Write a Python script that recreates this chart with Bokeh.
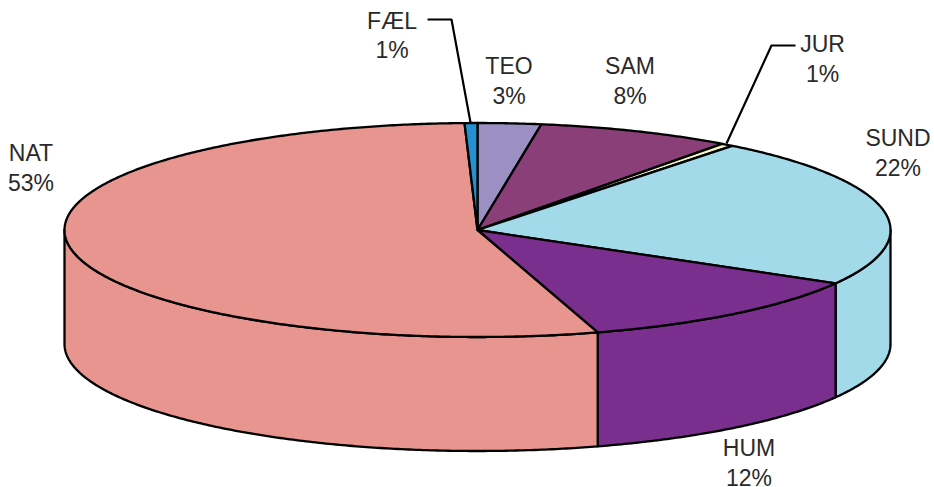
import math
from bokeh.plotting import figure
from bokeh.models import Range1d
from bokeh.core.properties import value
from bokeh.embed import file_html
from bokeh.resources import INLINE

categories = ["TEO", "SAM", "JUR", "SUND", "HUM", "NAT", "FÆL"]
shares = [2.47, 7.62, 0.49, 22.72, 12.0, 54.2, 0.5]
percent_labels = ["3%", "8%", "1%", "22%", "12%", "53%", "1%"]

colors = ["#9B8FC4", "#8A3F78", "#F5F5C8", "#A2DAE9", "#7A2F8E", "#E89590", "#2490D0"]
label_centers = [508.5, 629.5, 822, 897.5, 748.5, 30.5, 391.5]
label_baselines = [65.5, 65.5, 43.5, 137.5, 447.5, 152.5, 20]
LINE_GAP = 29.5

CX, CY, RX, RY, DEPTH = 477, 229.5, 413, 107, 114
INK = "#000000"
TEXT = "#2b2a29"
FONT = value("Liberation Sans")

WIDTH, HEIGHT = 934, 487
p = figure(width=WIDTH, height=HEIGHT, output_backend="svg", toolbar_location=None,
           x_range=Range1d(0, WIDTH), y_range=Range1d(HEIGHT, 0),
           min_border=0, outline_line_color=None, background_fill_color="white",
           border_fill_color="white")
p.axis.visible = False
p.grid.visible = False


def rim(a, b, dy=0.0, n=None):
    n = n or max(2, int(abs(b - a) * 2) + 2)
    xs, ys = [], []
    for i in range(n):
        t = math.radians(a + (b - a) * i / (n - 1))
        xs.append(CX + RX * math.sin(t))
        ys.append(CY - RY * math.cos(t) + dy)
    return xs, ys


# cumulative clockwise angles from twelve o'clock
edges = [0.0]
for s in shares:
    edges.append(edges[-1] + s * 3.6 * 100 / sum(shares))

# front walls (only the part of each slice between 90 and 270 degrees)
for i in range(len(shares)):
    a, b = max(edges[i], 90), min(edges[i + 1], 270)
    if a >= b:
        continue
    tx, ty = rim(a, b)
    bx, by = rim(b, a, DEPTH)
    p.patch(tx + bx, ty + by, fill_color=colors[i], line_color=INK, line_width=2.3,
            line_join="round")

# top face
for i in range(len(shares)):
    tx, ty = rim(edges[i], edges[i + 1])
    p.patch([CX] + tx, [CY] + ty, fill_color=colors[i], line_color=INK, line_width=2.3,
            line_join="round")

# leader lines
p.line([427, 451, 470], [19, 19, 122], line_color=INK, line_width=2.2)
p.line([795, 771, 726], [45, 45, 143], line_color=INK, line_width=2.2)

# labels
for name, pct, x, y in zip(categories, percent_labels, label_centers, label_baselines):
    p.text([x], [y], text=[name], text_font=FONT, text_font_size="23px", text_color=TEXT,
           text_align="center", text_baseline="alphabetic")
    p.text([x], [y + LINE_GAP], text=[pct], text_font=FONT, text_font_size="23px",
           text_color=TEXT, text_align="center", text_baseline="alphabetic")

open("out.html", "w").write(file_html(p, INLINE))
